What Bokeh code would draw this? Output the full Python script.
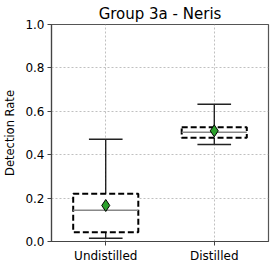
from bokeh.plotting import figure
from bokeh.models import ColumnDataSource, FactorRange, Range1d, FixedTicker, PrintfTickFormatter
from bokeh.embed import file_html
from bokeh.resources import INLINE

categories = ["Undistilled", "Distilled"]
q1 = [0.043, 0.478]
q3 = [0.220, 0.527]
median = [0.144, 0.504]
mean = [0.166, 0.510]
whisker_low = [0.015, 0.447]
whisker_high = [0.471, 0.633]
y_ticks = [0.0, 0.2, 0.4, 0.6, 0.8, 1.0]

BOX_HALF = 0.3
CAP_HALF = 0.155

src = ColumnDataSource(dict(
    cat=categories, q1=q1, q3=q3, med=median, mean=mean, lo=whisker_low, hi=whisker_high,
    bl=[(c, -BOX_HALF) for c in categories], br=[(c, BOX_HALF) for c in categories],
    cl=[(c, -CAP_HALF) for c in categories], cr=[(c, CAP_HALF) for c in categories],
))

p = figure(x_range=FactorRange(*categories, range_padding=0), y_range=Range1d(0, 1),
           frame_width=217, frame_height=217, output_backend="svg", toolbar_location=None,
           min_border_left=41, min_border_right=4, min_border_top=22, min_border_bottom=17,
           title="Group 3a - Neris")
p.x_range.factor_padding = 0

p.title.align = "center"
p.title.text_font = "DejaVu Sans"
p.title.text_font_size = "15px"
p.title.text_font_style = "normal"
p.title.text_color = "black"
p.title.standoff = 4

for ax in (p.xaxis, p.yaxis):
    ax.major_label_text_font = "DejaVu Sans"
    ax.major_label_text_font_size = "12px"
    ax.major_label_text_color = "black"
    ax.axis_line_color = "#444444"
    ax.axis_line_width = 1.2
    ax.major_tick_line_color = "#444444"
    ax.major_tick_out = 4
    ax.major_tick_in = 0
    ax.minor_tick_line_color = None
    ax.major_label_standoff = 3

p.yaxis.ticker = FixedTicker(ticks=y_ticks)
p.yaxis.formatter = PrintfTickFormatter(format="%.1f")
p.yaxis.axis_label = "Detection Rate"
p.yaxis.axis_label_text_font = "DejaVu Sans"
p.yaxis.axis_label_text_font_size = "11.5px"
p.yaxis.axis_label_text_font_style = "normal"
p.yaxis.axis_label_text_color = "black"
p.yaxis.axis_label_standoff = 5

p.outline_line_color = "#555555"
p.outline_line_width = 1.2
p.outline_line_alpha = 1

p.xgrid.grid_line_color = "#b0b0b0"
p.ygrid.grid_line_color = "#b0b0b0"
p.xgrid.grid_line_dash = "2 2"
p.ygrid.grid_line_dash = "2 2"
p.xgrid.grid_line_width = 0.8
p.ygrid.grid_line_width = 0.8

# whiskers
p.segment(x0="cat", y0="q3", x1="cat", y1="hi", source=src, line_color="black", line_width=1.2)
p.segment(x0="cat", y0="lo", x1="cat", y1="q1", source=src, line_color="black", line_width=1.2)

# box
p.vbar(x="cat", bottom="q1", top="q3", width=2 * BOX_HALF, source=src, fill_color="white",
       line_color="black", line_width=2, line_dash="6 3")

# median
p.segment(x0="bl", y0="med", x1="br", y1="med", source=src, line_color="#888888", line_width=1.5)

# caps
p.segment(x0="cl", y0="hi", x1="cr", y1="hi", source=src, line_color="#222222", line_width=1.5)
p.segment(x0="cl", y0="lo", x1="cr", y1="lo", source=src, line_color="#222222", line_width=1.5)

# mean
p.scatter(x="cat", y="mean", marker="diamond", size=12, source=src, fill_color="#2ca02c",
          line_color="black", line_width=1)

open("out.html", "w").write(file_html(p, INLINE))
